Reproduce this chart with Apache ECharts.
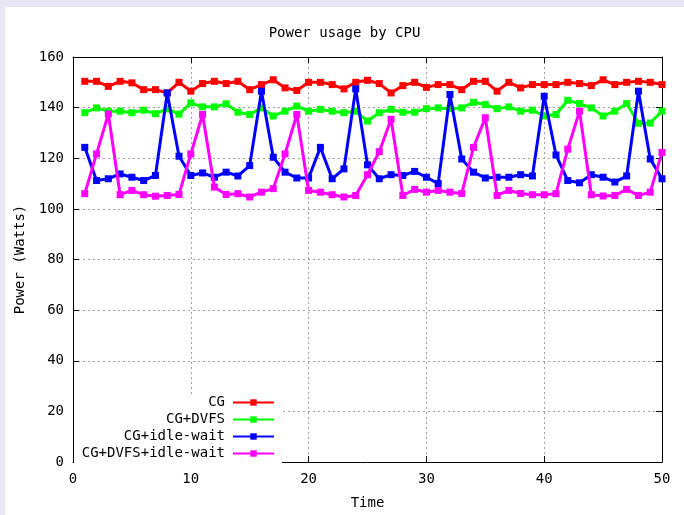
<!DOCTYPE html>
<html>
<head>
<meta charset="utf-8">
<script src="https://cdn.jsdelivr.net/npm/echarts@6/dist/echarts.min.js"></script>
<style>
	html, body { margin: 0; padding: 0; background: #e8e6f4; width: 684px; height: 515px; overflow: hidden; }
	#powerChart { position: absolute; left: 5px; top: 7px; width: 679px; height: 508px; background: #fff; }
</style>
</head>
<body>
<div id="powerChart"></div>
<script>
// x = sample index 1..50
const xTicks = [0, 10, 20, 30, 40, 50];
const yTicks = [0, 20, 40, 60, 80, 100, 120, 140, 160];
const seriesNames = ['CG', 'CG+DVFS', 'CG+idle-wait', 'CG+DVFS+idle-wait'];

const cgValues = [
	150.4, 150.4, 148.4, 150.4, 149.8, 147.1, 147.1, 145.8, 150, 146.5,
	149.5, 150.4, 149.5, 150.4, 147.1, 149.1, 151, 147.8, 146.8, 150,
	150, 149.1, 147.4, 150, 150.8, 149.5, 145.8, 148.7, 150, 148,
	149.1, 149.1, 147.1, 150.4, 150.4, 146.5, 150, 147.8, 149.1, 149.1,
	149.1, 150, 149.5, 148.7, 151, 149.1, 150, 150.4, 150, 149.1
];
const dvfsValues = [
	138, 139.9, 138.6, 138.6, 138, 139, 137.6, 139.5, 137.4, 141.9,
	140.3, 140.3, 141.5, 138.2, 137.3, 139.9, 136.7, 138.6, 140.6, 138.6,
	139.3, 138.6, 138, 138.6, 134.7, 138, 139.3, 138.2, 138.2, 139.6,
	139.9, 139.6, 139.9, 142.1, 141.2, 139.6, 140.3, 138.6, 139, 136.7,
	137.3, 142.9, 141.6, 139.9, 136.7, 138.6, 141.6, 133.8, 133.9, 138.6
];
const idleValues = [
	124.3, 111.2, 111.9, 113.8, 112.5, 111.2, 113.2, 145.8, 120.8, 113.2,
	114.2, 112.5, 114.5, 113, 117.1, 146.5, 120.4, 114.5, 112.2, 112.2,
	124.3, 111.9, 115.8, 147.4, 117.4, 111.9, 113.5, 113.2, 114.8, 112.5,
	110, 145.2, 119.7, 114.5, 112.2, 112.5, 112.5, 113.5, 113, 144.5,
	121.3, 111.2, 110.3, 113.5, 112.5, 110.6, 113, 146.5, 119.7, 111.9
];
const dvfsIdleValues = [
	106, 121.7, 137.5, 105.6, 107.3, 105.6, 105, 105.3, 105.7, 121.7,
	137.3, 108.6, 105.7, 106, 104.7, 106.6, 108, 121.7, 137.3, 107.3,
	106.6, 105.6, 104.7, 105.3, 113.5, 122.6, 135.4, 105.3, 107.7, 106.6,
	107.3, 106.6, 106.1, 124.3, 136, 105.3, 107.3, 106.1, 105.6, 105.6,
	106, 123.6, 138.6, 105.6, 105.1, 105.3, 107.7, 105.3, 106.6, 122.3
];

const colors = ['#ff0000', '#00ff00', '#0000ff', '#ff00ff'];
const fontMono = 'DejaVu Sans Mono';

const toPoints = (arr) => arr.map((v, i) => [i + 1, v]);

const chart = echarts.init(document.getElementById('powerChart'));

const axisBase = {
	type: 'value',
	axisLine: { show: true, onZero: false, lineStyle: { color: '#000', width: 1 } },
	axisTick: { show: true, inside: true, length: 6, lineStyle: { color: '#000' } },
	axisLabel: { color: '#000', fontFamily: fontMono, fontSize: 14 },
};

// one legend per row so the icons line up on the right like gnuplot's key
const legends = seriesNames.map((name, i) => ({
	data: [name],
	right: 404,
	top: 383.5 + i * 17,
	align: 'right',
	itemWidth: 41,
	itemHeight: 8,
	itemGap: 0,
	textStyle: { color: '#000', fontFamily: fontMono, fontSize: 14, padding: [0, 3, 0, 0] },
}));

const option = {
	animation: false,
	color: colors,
	title: {
		text: 'Power usage by CPU',
		left: 'center',
		top: 14,
		textStyle: { color: '#000', fontFamily: fontMono, fontSize: 14, fontWeight: 'normal' },
	},
	legend: legends,
	// gnuplot blanks the grid behind the key
	graphic: [{
		type: 'rect',
		z: 1,
		shape: { x: 69, y: 388, width: 208, height: 70 },
		style: { fill: '#fff' },
	}],
	grid: { left: 68, top: 50, right: 22, bottom: 49 },
	xAxis: [
		{
			...axisBase,
			min: 0, max: 50, interval: 10,
			name: 'Time',
			nameLocation: 'middle',
			nameGap: 34,
			nameTextStyle: { color: '#000', fontFamily: fontMono, fontSize: 14 },
			axisLabel: { ...axisBase.axisLabel, margin: 10 },
			splitLine: { show: true, lineStyle: { color: '#a0a0a0', type: [2, 3], width: 1 } },
		},
		{
			...axisBase,
			position: 'top',
			min: 0, max: 50, interval: 10,
			axisLabel: { show: false },
			splitLine: { show: false },
		},
	],
	yAxis: [
		{
			...axisBase,
			min: 0, max: 160, interval: 20,
			name: 'Power (Watts)',
			nameLocation: 'middle',
			nameGap: 42,
			nameTextStyle: { color: '#000', fontFamily: fontMono, fontSize: 14 },
			axisLabel: { ...axisBase.axisLabel, margin: 9 },
			splitLine: { show: true, lineStyle: { color: '#a0a0a0', type: [2, 3], width: 1 } },
		},
		{
			...axisBase,
			position: 'right',
			min: 0, max: 160, interval: 20,
			axisLabel: { show: false },
			splitLine: { show: false },
		},
	],
	series: [cgValues, dvfsValues, idleValues, dvfsIdleValues].map((vals, i) => ({
		name: seriesNames[i],
		type: 'line',
		data: toPoints(vals),
		symbol: 'rect',
		symbolSize: 7,
		showAllSymbol: true,
		lineStyle: { width: 3, color: colors[i] },
		itemStyle: { color: colors[i] },
		z: 2 + i,
	})),
};

chart.setOption(option);
</script>
</body>
</html>
